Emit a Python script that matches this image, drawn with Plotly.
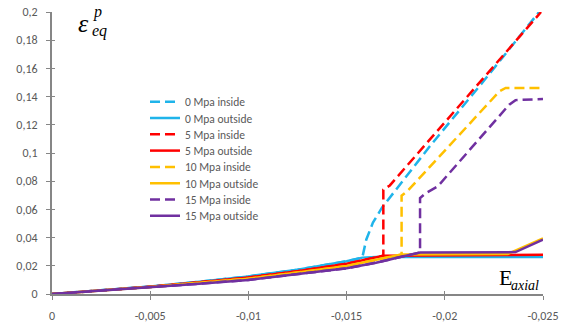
import plotly.graph_objects as go

# ---------------- data ----------------
names = ["0 Mpa inside", "0 Mpa outside", "5 Mpa inside", "5 Mpa outside",
         "10 Mpa inside", "10 Mpa outside", "15 Mpa inside", "15 Mpa outside"]

x_0_out = [0, -0.0025, -0.005, -0.0075, -0.01, -0.0125, -0.015, -0.0158, -0.0165, -0.025]
y_0_out = [0, 0.0026, 0.0053, 0.0087, 0.0125, 0.0172, 0.0232, 0.0258, 0.0262, 0.0262]
x_0_in = [0, -0.0025, -0.005, -0.0075, -0.01, -0.0125, -0.015, -0.0158, -0.0160, -0.01634, -0.0168, -0.01925, -0.022, -0.0248]
y_0_in = [0, 0.0026, 0.0053, 0.0087, 0.0125, 0.0172, 0.0232, 0.0258, 0.0385, 0.0506, 0.0612, 0.1050, 0.1514, 0.2000]

x_5_out = [0, -0.0025, -0.005, -0.0075, -0.01, -0.0125, -0.015, -0.0163, -0.01687, -0.025]
y_5_out = [0, 0.0025, 0.0051, 0.0083, 0.0117, 0.0162, 0.0215, 0.0253, 0.0272, 0.0278]
x_5_in = [0, -0.0025, -0.005, -0.0075, -0.01, -0.0125, -0.015, -0.0163, -0.01687, -0.01687, -0.0172, -0.0249]
y_5_in = [0, 0.0025, 0.0051, 0.0083, 0.0117, 0.0162, 0.0215, 0.0253, 0.0272, 0.0740, 0.0770, 0.2000]

x_10_out = [0, -0.0025, -0.005, -0.0075, -0.01, -0.0125, -0.015, -0.0165, -0.0178, -0.0232, -0.025]
y_10_out = [0, 0.0024, 0.0049, 0.0079, 0.0109, 0.0152, 0.0198, 0.0243, 0.0280, 0.0283, 0.0395]
x_10_in = [0, -0.0025, -0.005, -0.0075, -0.01, -0.0125, -0.015, -0.0165, -0.0178, -0.0178, -0.0181, -0.02278, -0.0231, -0.025]
y_10_in = [0, 0.0024, 0.0049, 0.0079, 0.0109, 0.0152, 0.0198, 0.0243, 0.0280, 0.0697, 0.0730, 0.1437, 0.1461, 0.1461]

x_15_out = [0, -0.0025, -0.005, -0.0075, -0.01, -0.0125, -0.015, -0.0165, -0.01874, -0.0236, -0.025]
y_15_out = [0, 0.0023, 0.0047, 0.0073, 0.0100, 0.0140, 0.0182, 0.0222, 0.0295, 0.0297, 0.0385]
x_15_in = [0, -0.0025, -0.005, -0.0075, -0.01, -0.0125, -0.015, -0.0165, -0.01874, -0.01874, -0.01904, -0.01964, -0.02328, -0.0236, -0.025]
y_15_in = [0, 0.0023, 0.0047, 0.0073, 0.0100, 0.0140, 0.0182, 0.0222, 0.0295, 0.0680, 0.0716, 0.0763, 0.1343, 0.1375, 0.1383]

x_tickvals = [0, -0.005, -0.01, -0.015, -0.02, -0.025]
x_ticktext = ["0", "-0,005", "-0,01", "-0,015", "-0,02", "-0,025"]
y_tickvals = [0, 0.02, 0.04, 0.06, 0.08, 0.1, 0.12, 0.14, 0.16, 0.18, 0.2]
y_ticktext = ["0", "0,02", "0,04", "0,06", "0,08", "0,1", "0,12", "0,14", "0,16", "0,18", "0,2"]

series = [
    (x_0_in, y_0_in), (x_0_out, y_0_out),
    (x_5_in, y_5_in), (x_5_out, y_5_out),
    (x_10_in, y_10_in), (x_10_out, y_10_out),
    (x_15_in, y_15_in), (x_15_out, y_15_out),
]
colors = ["#1FB4EA", "#1FB4EA", "#FF0000", "#FF0000",
          "#FFC000", "#FFC000", "#7030A0", "#7030A0"]

# ---------------- figure ----------------
W, H = 571, 326
L, R, T, B = 52, 28, 12, 32
PW, PH = W - L - R, H - T - B

def px(xp):
    return (xp - L) / PW

def py(yp):
    return (H - B - yp) / PH

FONT = "Carlito, Calibri, Lato, sans-serif"
GRAY = "#868686"

fig = go.Figure()
legends = {}
for i, ((xs, ys), n, c) in enumerate(zip(series, names, colors)):
    dashed = "inside" in n
    lg = "legend" if i == 0 else f"legend{i + 1}"
    fig.add_trace(go.Scatter(
        x=xs, y=ys, name=n, mode="lines", legend=lg,
        line=dict(color=c, width=2.5, dash="10px,5px" if dashed else "solid"),
    ))
    legends[lg] = dict(x=px(145), y=py(101.7 + 16.3 * i), xanchor="left", yanchor="middle",
                       bgcolor="rgba(0,0,0,0)",
                       font=dict(family=FONT, size=11.5, color="#595959"),
                       itemwidth=30)

# empty trace to create overlay axes used for inner tick halves
fig.add_trace(go.Scatter(x=[], y=[], xaxis="x2", yaxis="y2", showlegend=False, hoverinfo="skip"))

axis_common = dict(showgrid=False, zeroline=False, showline=True, linecolor=GRAY,
                   linewidth=2, ticks="outside", ticklen=4, tickwidth=1, tickcolor=GRAY,
                   automargin=False,
                   tickfont=dict(family=FONT, size=12, color="#595959"))

fig.update_layout(
    width=W, height=H,
    margin=dict(l=L, r=R, t=T, b=B, autoexpand=False),
    paper_bgcolor="white", plot_bgcolor="white",
    separators=", ",
    showlegend=True,
    xaxis=dict(range=[0, -0.025], tickvals=x_tickvals, ticktext=x_ticktext,
               ticklabelstandoff=6, **axis_common),
    yaxis=dict(range=[0, 0.2], tickvals=y_tickvals, ticktext=y_ticktext,
               ticklabelstandoff=6, **axis_common),
    xaxis2=dict(overlaying="x", anchor="y2", matches="x", range=[0, -0.025],
                tickvals=x_tickvals, showticklabels=False, showgrid=False, zeroline=False,
                showline=False, ticks="inside", ticklen=3, tickcolor=GRAY, side="bottom",
                automargin=False),
    yaxis2=dict(overlaying="y", anchor="x2", matches="y", range=[0, 0.2],
                tickvals=y_tickvals, showticklabels=False, showgrid=False, zeroline=False,
                showline=False, ticks="inside", ticklen=3, tickcolor=GRAY, side="left",
                automargin=False),
    **legends,
)

serif = "Liberation Serif, DejaVu Serif, serif"
ann = [
    dict(text="<i>ε</i>", x=px(83), y=py(24), font=dict(family=serif, size=26, color="black")),
    dict(text="<i>p</i>", x=px(97), y=py(12), font=dict(family=serif, size=16, color="black")),
    dict(text="<i>eq</i>", x=px(99), y=py(31), font=dict(family=serif, size=16, color="black")),
    dict(text="E", x=px(505), y=py(277), font=dict(family=serif, size=22, color="black")),
    dict(text="<i>axial</i>", x=px(525), y=py(285), font=dict(family=serif, size=14, color="black")),
]
for a in ann:
    fig.add_annotation(xref="paper", yref="paper", showarrow=False,
                       xanchor="center", yanchor="middle", **a)

fig.write_html("out.html")
